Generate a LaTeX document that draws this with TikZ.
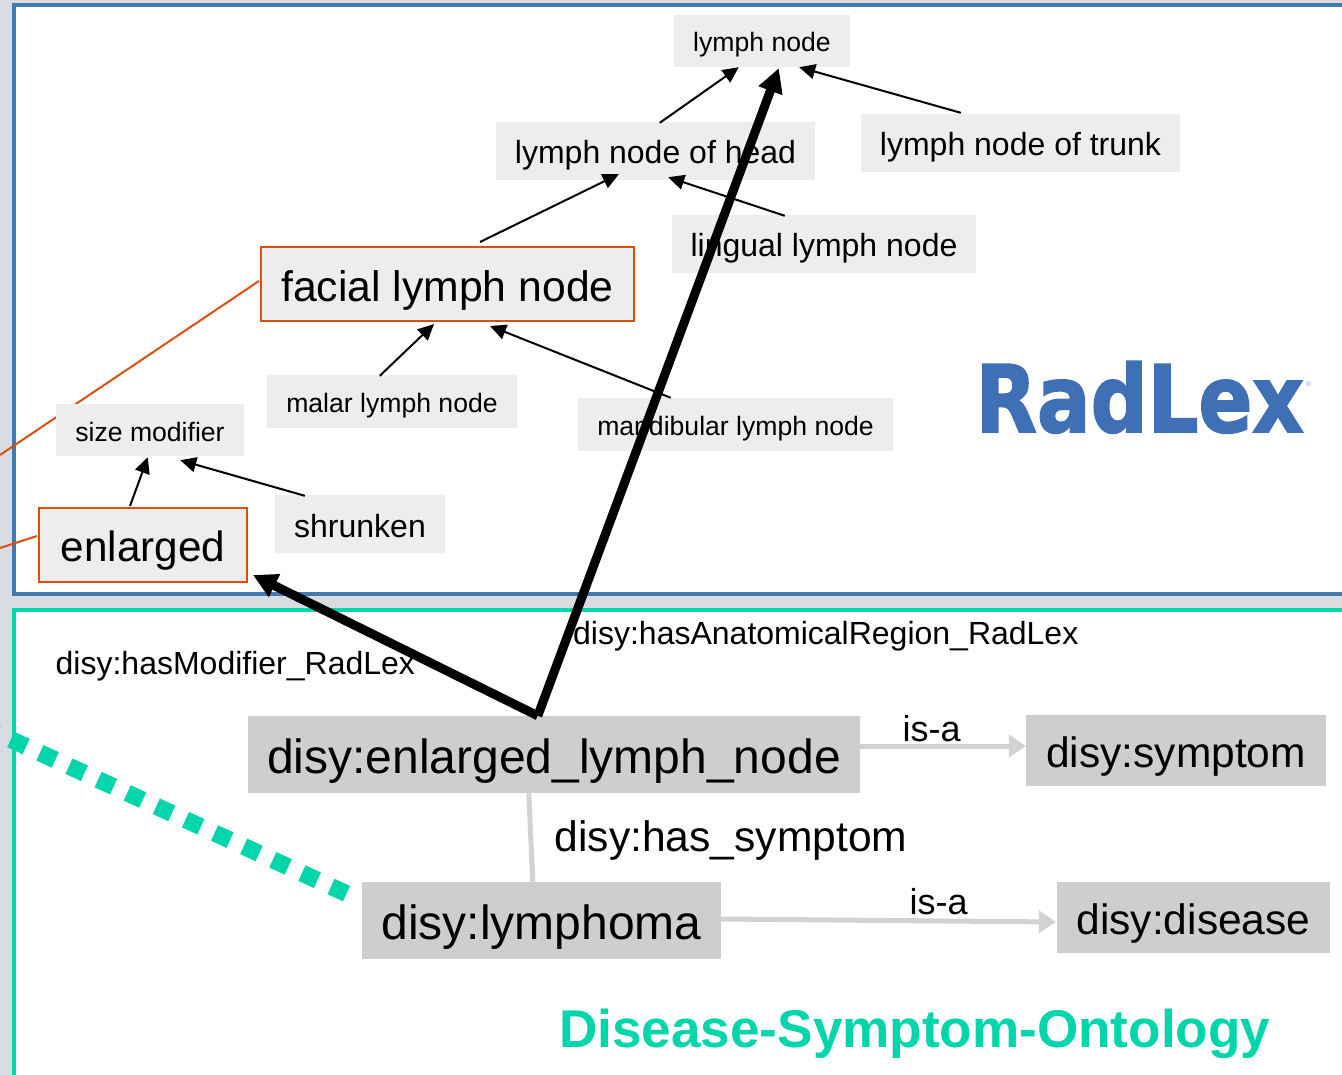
\documentclass[tikz,border=0pt]{standalone}
\usepackage{fontspec}
\setmainfont{Liberation Sans}
\newfontfamily\logofont[BoldFeatures={FakeBold=2}]{DejaVu Sans}
\usetikzlibrary{arrows.meta,calc}
\definecolor{bgc}{HTML}{D9DCE1}
\definecolor{radblue}{HTML}{4279AE}
\definecolor{logoblue}{HTML}{3F6FB5}
\definecolor{teal}{HTML}{00D5AB}
\definecolor{lightbox}{HTML}{EDEDED}
\definecolor{darkbox}{HTML}{CECECE}
\definecolor{edgeorange}{HTML}{D9500F}
\definecolor{edgegray}{HTML}{D2D2D2}
\newcommand{\fs}[1]{\fontsize{#1pt}{#1pt}\selectfont}
\tikzset{
  x=1pt,y=-1pt,
  boxbase/.style={inner sep=0pt,text=black,execute at begin node={\rule[-.14em]{0pt}{1.15em}}},
  radbox/.style={boxbase,fill=lightbox},
  selbox/.style={boxbase,fill=lightbox,draw=edgeorange,line width=2pt},
  disybox/.style={boxbase,fill=darkbox},
  label/.style={inner sep=0pt,anchor=base west,text=black},
  thin arrow/.style={line width=2pt,draw=black,-{Triangle[length=16pt,width=15pt]}},
  thick arrow/.style={line width=9pt,draw=black,-{Triangle[length=24pt,width=24pt]}},
  gray arrow/.style={line width=5pt,draw=edgegray,-{Triangle[length=17pt,width=22pt]}},
  gray line/.style={line width=5pt,draw=edgegray},
  orange line/.style={line width=2pt,draw=edgeorange},
  panelA/.style={draw=radblue,fill=white,line width=4pt},
  panelB/.style={draw=teal,fill=white,line width=4pt},
}
\begin{document}
\begin{tikzpicture}
\useasboundingbox (0,0) rectangle (1342,1075);
\fill[bgc] (0,0) rectangle (1342,1075);
\draw[panelA] (14,5) rectangle (1360,594);
\draw[panelB] (14,610) rectangle (1360,1095);
\coordinate (offA) at (0,455);
\coordinate (offB) at (0,548);
\coordinate (offC) at (-12,729);
\node[selbox,minimum width=373pt,minimum height=74pt,font=\fs{42.7}] (facial) at (447.5,284) {facial lymph node};
\node[selbox,minimum width=208pt,minimum height=74pt,font=\fs{42.3}] (enlarged) at (143,545) {enlarged};
\draw[orange line] ($(facial.west)+(-1,-3)$) -- (offA);
\draw[orange line] ($(enlarged.west)+(-1,-9)$) -- (offB);
\node[radbox,minimum width=176pt,minimum height=52pt,font=\fs{26.6}] (lymph) at (762,41) {lymph node};
\node[radbox,minimum width=319pt,minimum height=58pt,font=\fs{32}] (head) at (655.5,151) {lymph node of head};
\node[radbox,minimum width=319pt,minimum height=58pt,font=\fs{32}] (trunk) at (1020.5,143) {lymph node of trunk};
\node[radbox,minimum width=304pt,minimum height=58pt,font=\fs{32}] (lingual) at (824,244) {lingual lymph node};
\node[radbox,minimum width=250pt,minimum height=53pt,font=\fs{26.6}] (malar) at (392,401.5) {malar lymph node};
\node[radbox,minimum width=315pt,minimum height=53pt,font=\fs{26.6}] (mandibular) at (735.5,424.5) {mandibular lymph node};
\node[radbox,minimum width=188pt,minimum height=52pt,font=\fs{26.6}] (size) at (150,430) {size modifier};
\node[radbox,minimum width=170pt,minimum height=58pt,font=\fs{32}] (shrunken) at (360,524) {shrunken};
\node[disybox,minimum width=612pt,minimum height=77pt,font=\fs{48}] (enlnode) at (554,754.5) {disy:enlarged\_lymph\_node};
\node[disybox,minimum width=300pt,minimum height=71pt,font=\fs{42.5}] (symptom) at (1176,750.5) {disy:symptom};
\node[disybox,minimum width=359pt,minimum height=77pt,font=\fs{48}] (lymphoma) at (541.5,920.5) {disy:lymphoma};
\node[disybox,minimum width=273pt,minimum height=71pt,font=\fs{42.5}] (disease) at (1193.5,917.5) {disy:disease};
% logo
\node[inner sep=0pt,anchor=base west,text=logoblue,font={\logofont\bfseries\fs{93}},xscale=0.856,transform shape] (logo) at (975.5,432) {RadLex};
\node[inner sep=0pt,anchor=west,text=logoblue!60,font=\fs{7}] (reg) at (1306,384) {®};
% labels
\node[label,font=\fs{32}] (l1) at (573,644) {disy:hasAnatomicalRegion\_RadLex};
\node[label,font=\fs{32}] (l2) at (55.5,674) {disy:hasModifier\_RadLex};
\node[label,font=\fs{36}] (l3) at (902.5,741) {is-a};
\node[label,font=\fs{36}] (l4) at (909.5,914) {is-a};
\node[label,font=\fs{42.6}] (l5) at (554.5,851) {disy:has\_symptom};
\node[label,font={\bfseries\fs{53.1}},text=teal] (title) at (559,1047) {Disease-Symptom-Ontology};
% thin arrows
\draw[thin arrow] ($(head.north west)+(164,1)$) -- ($(lymph.south west)+(65,0)$);
\draw[thin arrow] ($(trunk.north west)+(100,-1)$) -- ($(lymph.south east)+(-51,0)$);
\draw[thin arrow] ($(facial.north west)+(220,-4)$) -- ($(head.south west)+(123,-6)$);
\draw[thin arrow] ($(lingual.north west)+(113,1)$) -- ($(head.south east)+(-147,-3)$);
\draw[thin arrow] ($(malar.north west)+(113,1)$) -- ($(facial.south west)+(174,2)$);
\draw[thin arrow] ($(mandibular.north west)+(93,0)$) -- ($(facial.south east)+(-145,4)$);
\draw[thin arrow] ($(enlarged.north west)+(92,-1)$) -- ($(size.south west)+(92,1)$);
\draw[thin arrow] ($(shrunken.north west)+(30,1)$) -- ($(size.south east)+(-64,4)$);
% gray connectors
\draw[gray arrow] ($(enlnode.east)+(0,-8.5)$) -- ($(symptom.west)+(0,-4.5)$);
\draw[gray arrow] ($(lymphoma.east)+(0,-1.5)$) -- ($(disease.west)+(-1,4.5)$);
\draw[gray line] ($(enlnode.south west)+(281,0)$) -- ($(lymphoma.north west)+(171,0)$);
% dotted link
\draw[teal,line width=17pt,dash pattern=on 17pt off 15.04pt] ($(lymphoma.west)+(-15.3,-26.9)$) -- (offC);
% thick arrows
\draw[thick arrow] ($(enlnode.north west)+(290,0)$) -- ($(lymph.south west)+(105,1)$);
\draw[thick arrow] ($(enlnode.north west)+(290,0)$) -- ($(enlarged.south east)+(5,-8)$);
\end{tikzpicture}
\end{document}
